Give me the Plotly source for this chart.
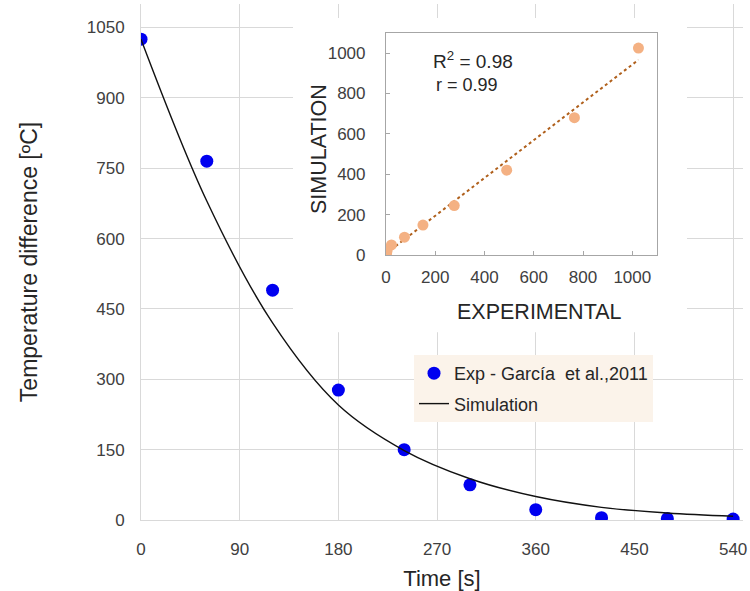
import numpy as np
import plotly.graph_objects as go

# Measured temperature difference (García et al., 2011) and simulated values
time_s = [0, 60, 120, 180, 240, 300, 360, 420, 480, 540]
exp_temp = [1025, 765, 490, 277, 150, 75, 22, 5, 3, 2]
sim_temp = [1025, 680, 420, 245, 148, 88, 50, 27, 15, 8]

x_ticks = [0, 90, 180, 270, 360, 450, 540]
y_ticks = [0, 150, 300, 450, 600, 750, 900, 1050]
inset_ticks = [0, 200, 400, 600, 800, 1000]

X_RANGE = [0, 549]
Y_RANGE = [0, 1100]

FONT = "Liberation Sans, Arial, sans-serif"
GRID = "#d9d9d9"
TICK_TXT = "#404040"
TITLE_TXT = "#262626"

# Least-squares line for the experimental-vs-simulation comparison
slope, intercept = np.polyfit(exp_temp, sim_temp, 1)
fit_x = [0, max(exp_temp)]
fit_y = [intercept + slope * v for v in fit_x]


def to_x(frac):
    return X_RANGE[0] + frac * (X_RANGE[1] - X_RANGE[0])


def to_y(frac):
    return Y_RANGE[0] + frac * (Y_RANGE[1] - Y_RANGE[0])


fig = go.Figure()

fig.add_trace(go.Scatter(
    x=time_s, y=exp_temp, mode="markers", name="Exp - García  et al.,2011",
    marker=dict(color="#0000f0", size=13), legendgroup="a",
    xaxis="x", yaxis="y",
))
fig.add_trace(go.Scatter(
    x=time_s, y=sim_temp, mode="lines", name="Simulation",
    line=dict(color="#111111", width=1.4, shape="spline"), legendgroup="b",
    xaxis="x", yaxis="y",
))

# Inset: simulation against experiment
fig.add_trace(go.Scatter(
    x=fit_x, y=fit_y, mode="lines", showlegend=False,
    line=dict(color="#b0601c", width=2, dash="dot"),
    xaxis="x2", yaxis="y2",
))
fig.add_trace(go.Scatter(
    x=exp_temp, y=sim_temp, mode="markers", showlegend=False,
    marker=dict(color="#f4b183", size=11),
    xaxis="x2", yaxis="y2",
))

fig.update_layout(
    width=750, height=591,
    margin=dict(l=141, r=7, t=4, b=71),
    paper_bgcolor="white", plot_bgcolor="white",
    font=dict(family=FONT, color=TICK_TXT),
    xaxis=dict(
        range=X_RANGE, tickvals=x_ticks, showgrid=True, gridcolor=GRID,
        gridwidth=1, zeroline=False, showline=True, linecolor=GRID,
        ticks="", tickfont=dict(size=17, color=TICK_TXT), ticklabelstandoff=14,
        title=dict(text="Time [s]", font=dict(size=22, color=TITLE_TXT), standoff=12),
    ),
    yaxis=dict(
        range=Y_RANGE, tickvals=y_ticks, showgrid=True, gridcolor=GRID,
        gridwidth=1, zeroline=False, showline=True, linecolor=GRID,
        ticks="", tickfont=dict(size=17, color=TICK_TXT), ticklabelstandoff=12,
        title=dict(text="Temperature difference [ºC]", font=dict(size=23, color=TITLE_TXT), standoff=42),
    ),
    xaxis2=dict(
        domain=[0.407, 0.857], anchor="y2", range=[0, 1100], tickvals=inset_ticks,
        showgrid=False, zeroline=False, showline=True, mirror=True,
        linecolor="#a6a6a6", linewidth=1.2, ticks="inside", ticklen=4,
        tickcolor="#a6a6a6", tickfont=dict(size=17, color=TICK_TXT),
        ticklabelstandoff=7,
    ),
    yaxis2=dict(
        domain=[0.5136, 0.944], anchor="x2", range=[0, 1100], tickvals=inset_ticks,
        showgrid=False, zeroline=False, showline=True, mirror=True,
        linecolor="#a6a6a6", linewidth=1.2, ticks="inside", ticklen=4,
        tickcolor="#a6a6a6", tickfont=dict(size=17, color=TICK_TXT),
        ticklabelstandoff=16,
    ),
    legend=dict(
        x=(414 - 141) / 602, y=(520 - 355) / 516, xanchor="left", yanchor="top",
        bgcolor="#fbf3ea", borderwidth=0,
        font=dict(size=18, color=TITLE_TXT),
        traceorder="grouped", tracegroupgap=4,
        itemwidth=30,
    ),
    shapes=[
        # white panel behind the inset
        dict(type="rect", xref="x", yref="y",
             x0=to_x(0.2525), x1=to_x(0.907), y0=to_y(0.364), y1=to_y(0.973),
             fillcolor="white", line=dict(width=0), layer="between"),
    ],
    annotations=[
        dict(text="SIMULATION", xref="paper", yref="paper",
             x=(319 - 141) / 602, y=(520 - 149) / 516, textangle=-90,
             xanchor="center", yanchor="middle",
             showarrow=False, font=dict(size=21.5, color=TITLE_TXT)),
        dict(text="EXPERIMENTAL", xref="paper", yref="paper",
             x=(539 - 141) / 602, y=(520 - 312) / 516,
             xanchor="center", yanchor="middle",
             showarrow=False, font=dict(size=21.5, color=TITLE_TXT)),
        dict(text="R<sup>2</sup> = 0.98", xref="paper", yref="paper",
             x=(431 - 141) / 602, y=(520 - 60) / 516, xanchor="left", yanchor="middle",
             showarrow=False, font=dict(size=19, color=TITLE_TXT)),
        dict(text="r = 0.99", xref="paper", yref="paper",
             x=(434 - 141) / 602, y=(520 - 85) / 516, xanchor="left", yanchor="middle",
             showarrow=False, font=dict(size=18, color=TITLE_TXT)),
    ],
)

fig.write_html("out.html")
